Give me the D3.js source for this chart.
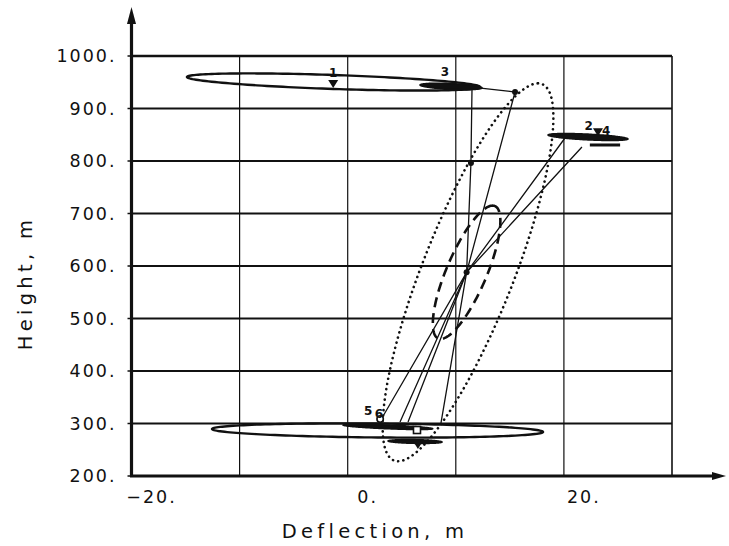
<!DOCTYPE html>
<html>
<head>
<meta charset="utf-8">
<script src="https://cdn.jsdelivr.net/npm/d3@7"></script>
<style>
  html, body { margin: 0; padding: 0; background: #fff; }
  svg { display: block; }
  text { font-family: "DejaVu Sans", sans-serif; fill: #111; }
</style>
</head>
<body>
<svg id="chart" width="729" height="546"></svg>
<script>
// ---- axis ticks ----
const xTicks = [-20, -10, 0, 10, 20, 30];
const xTickLabels = [[-20, "\u221220."], [0, "0."], [20, "20."]];
const yTicks = [200, 300, 400, 500, 600, 700, 800, 900, 1000];

// ---- flat horizontal scatter ellipses: centre, extreme tip, conjugate half-axis (m) ----
const topEllipse    = { c: [-1.31, 950.5], tip: [-14.87, 960.0], half: [0, 13.3] };
const bottomEllipse = { c: [2.76, 286.7],  tip: [-12.55, 289.5], half: [0, 13.3] };

// solid blobs at the measurement clusters
const blob3     = { c: [9.56, 942.0],  tip: [6.69, 944.8],  half: [0, 5.5] };
const blob2     = { c: [22.23, 845.7], tip: [18.53, 849.5], half: [0, 5.5] };
const blob5     = { c: [3.72, 293.5],  tip: [-0.43, 297.0], half: [0, 3.6] };
const blobLower = { c: [6.23, 265.7],  tip: [3.73, 266.7],  half: [0, 3.6] };

// ---- centre estimate and its confidence ellipses (top point, horizontal half-width) ----
const centre        = [11.0, 588];
const dottedEllipse = { c: [11.13, 588], tip: [17.6, 948], half: [4.53, 0] };
const dashedEllipse = { c: centre, tip: [13.4, 715], half: [2.0, 0] };

// ---- sight lines through the centre ----
const lineA = [[21.67, 826.7], centre, [3.17, 310.5]];
const lineB = [[20.10, 843.8], centre, [4.84, 302.9]];
const lineC = [[12.3, 939.0], [15.48, 931.4], centre, [8.63, 301.0]];
const lineD = [[11.5, 939.0], [11.4, 796.0], centre, [5.58, 302.9]];
const secondBar2 = [[22.4, 830.5], [25.2, 830.5]];

// ---- point markers and numbers ----
const triangles = [[-1.34, 946.5], [23.15, 855.0], [6.5, 259.0]];
const dots      = [[15.48, 931.4], [11.4, 796.0], centre];
const squares   = [[6.41, 287.6]];
const circles   = [[3.0, 308.6]];
const pointLabels = [
  ["1", -1.35, 960],
  ["3", 9.0, 961],
  ["2", 22.3, 859],
  ["4", 23.9, 850],
  ["5", 1.9, 316],
  ["6", 2.9, 311]
];

const svg = d3.select("#chart");
const x = d3.scaleLinear().domain([-20, 30]).range([131.5, 672]);
const y = d3.scaleLinear().domain([200, 1000]).range([476, 56]);

// ---- grid ----
const grid = svg.append("g").attr("stroke", "#111");
grid.selectAll("line.h").data(yTicks).join("line")
  .attr("x1", x(-20)).attr("x2", x(30))
  .attr("y1", d => y(d)).attr("y2", d => y(d))
  .attr("stroke-width", d => d === 1000 ? 2.4 : 1.8);
grid.selectAll("line.v").data(xTicks.slice(1)).join("line")
  .attr("x1", d => x(d)).attr("x2", d => x(d))
  .attr("y1", y(1000)).attr("y2", y(200))
  .attr("stroke-width", d => d === 30 ? 1.6 : 1.2);

// y tick marks
grid.selectAll("line.t").data(yTicks).join("line")
  .attr("x1", x(-20) - 4).attr("x2", x(-20))
  .attr("y1", d => y(d)).attr("y2", d => y(d))
  .attr("stroke-width", 1.5);

// ---- axes with arrowheads ----
const ax = svg.append("g");
ax.append("line").attr("x1", x(-20)).attr("x2", x(-20)).attr("y1", y(200) + 1).attr("y2", 20)
  .attr("stroke", "#111").attr("stroke-width", 3.2);
ax.append("path").attr("d", `M${x(-20)},7 L${x(-20) - 4.5},24 L${x(-20) + 4.5},24 Z`).attr("fill", "#111");
ax.append("line").attr("x1", x(-20) - 1.5).attr("x2", 716).attr("y1", y(200)).attr("y2", y(200))
  .attr("stroke", "#111").attr("stroke-width", 3.2);
ax.append("path").attr("d", `M726,${y(200)} L712,${y(200) - 4} L712,${y(200) + 4} Z`).attr("fill", "#111");

// tick labels
svg.append("g").selectAll("text").data(yTicks).join("text")
  .attr("x", x(-20) - 15).attr("y", d => y(d)).attr("dy", "0.36em")
  .attr("text-anchor", "end").attr("font-size", 17.5).attr("letter-spacing", 2.0)
  .text(d => d + ".");
svg.append("g").selectAll("text").data(xTickLabels).join("text")
  .attr("x", d => x(d[0]) + 20).attr("y", y(200) + 27)
  .attr("text-anchor", "middle").attr("font-size", 17.5).attr("letter-spacing", 2.0)
  .text(d => d[1]);

// axis titles
svg.append("text").attr("x", 375).attr("y", 538).attr("text-anchor", "middle")
  .attr("font-size", 19.5).attr("letter-spacing", 4.3).text("Deflection, m");
svg.append("text").attr("transform", "translate(32,283) rotate(-90)").attr("text-anchor", "middle")
  .attr("font-size", 19.5).attr("letter-spacing", 4.3).text("Height, m");

// ---- ellipse helper (conjugate semi-diameters in data space) ----
function ellipsePoints(e, n = 160) {
  const U = [e.tip[0] - e.c[0], e.tip[1] - e.c[1]];
  const V = e.half;
  return d3.range(n).map(i => {
    const t = (i / n) * 2 * Math.PI;
    return [e.c[0] + U[0] * Math.cos(t) + V[0] * Math.sin(t),
            e.c[1] + U[1] * Math.cos(t) + V[1] * Math.sin(t)];
  });
}
const closed = d3.line().x(d => x(d[0])).y(d => y(d[1])).curve(d3.curveLinearClosed);
const open = d3.line().x(d => x(d[0])).y(d => y(d[1]));

const marks = svg.append("g");

// confidence ellipses
marks.append("path").attr("d", closed(ellipsePoints(dottedEllipse)))
  .attr("fill", "none").attr("stroke", "#111").attr("stroke-width", 2.6)
  .attr("stroke-linecap", "round").attr("stroke-dasharray", "0.1 5.2");
marks.append("path").attr("d", closed(ellipsePoints(dashedEllipse)))
  .attr("fill", "none").attr("stroke", "#111").attr("stroke-width", 2.6)
  .attr("stroke-dasharray", "10 6");

// sight lines
[lineA, lineB, lineC, lineD].forEach(l => {
  marks.append("path").attr("d", open(l)).attr("fill", "none")
    .attr("stroke", "#111").attr("stroke-width", 1.3);
});
marks.append("path").attr("d", open(secondBar2)).attr("fill", "none")
  .attr("stroke", "#111").attr("stroke-width", 3);

// flat scatter ellipses
[topEllipse, bottomEllipse].forEach(e => {
  marks.append("path").attr("d", closed(ellipsePoints(e)))
    .attr("fill", "none").attr("stroke", "#111").attr("stroke-width", 2.4);
});
[blob3, blob2, blob5, blobLower].forEach(e => {
  marks.append("path").attr("d", closed(ellipsePoints(e)))
    .attr("fill", "#111").attr("stroke", "#111").attr("stroke-width", 1.5);
});

// markers
marks.selectAll("path.tri").data(triangles).join("path")
  .attr("d", d => `M${x(d[0]) - 5},${y(d[1]) - 4} L${x(d[0]) + 5},${y(d[1]) - 4} L${x(d[0])},${y(d[1]) + 4} Z`)
  .attr("fill", "#111");
marks.selectAll("circle.dot").data(dots).join("circle")
  .attr("cx", d => x(d[0])).attr("cy", d => y(d[1])).attr("r", 3).attr("fill", "#111");
marks.selectAll("rect.sq").data(squares).join("rect")
  .attr("x", d => x(d[0]) - 3.5).attr("y", d => y(d[1]) - 3.5).attr("width", 7).attr("height", 7)
  .attr("fill", "#fff").attr("stroke", "#111").attr("stroke-width", 1.6);
marks.selectAll("circle.ring").data(circles).join("circle")
  .attr("cx", d => x(d[0])).attr("cy", d => y(d[1])).attr("r", 3.2)
  .attr("fill", "#fff").attr("stroke", "#111").attr("stroke-width", 1.6);

// point numbers
marks.selectAll("text.lbl").data(pointLabels).join("text")
  .attr("x", d => x(d[1])).attr("y", d => y(d[2]))
  .attr("text-anchor", "middle").attr("font-size", 12).attr("font-weight", "bold")
  .text(d => d[0]);
</script>
</body>
</html>
